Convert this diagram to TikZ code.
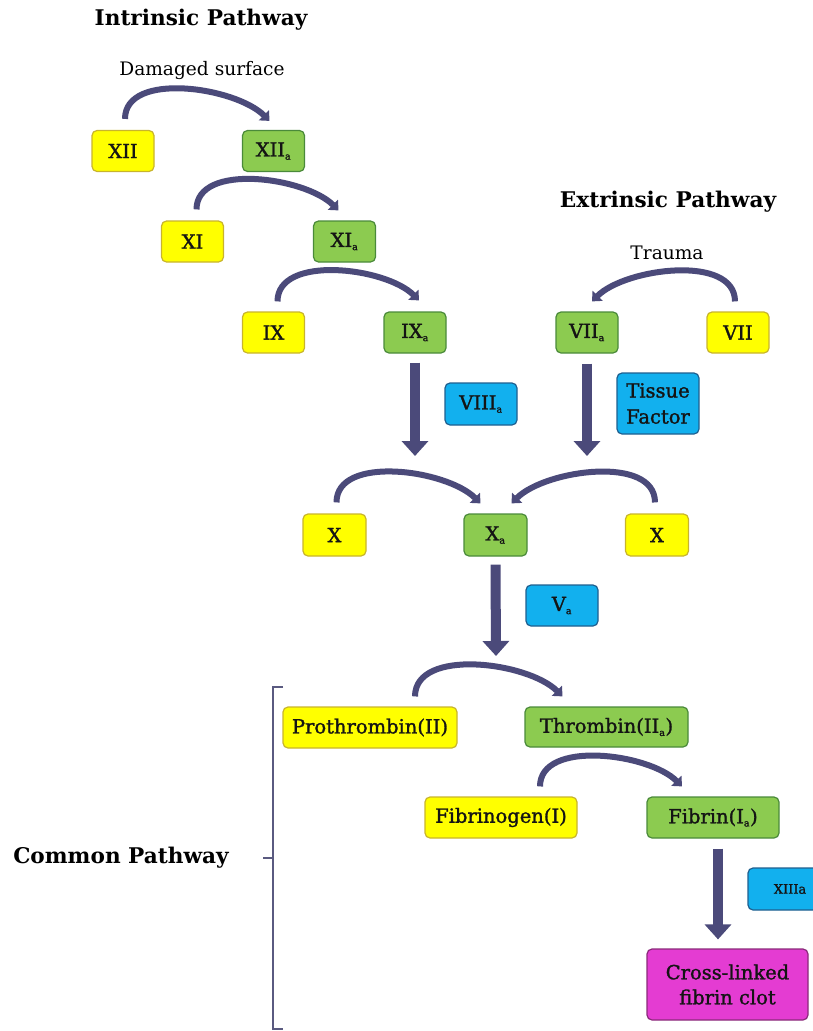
\documentclass[tikz,border=0pt]{standalone}
\usepackage{fontspec}
\setmainfont{DejaVu Serif}
\newfontfamily\semibfont{DejaVu Serif}[FakeBold=1.4]
\usetikzlibrary{arrows.meta}
\definecolor{Yel}{HTML}{FFFF00}
\definecolor{YelB}{HTML}{C8B42C}
\definecolor{Grn}{HTML}{8CCB50}
\definecolor{GrnB}{HTML}{4A8A3A}
\definecolor{Blu}{HTML}{12B0EE}
\definecolor{BluB}{HTML}{1F5F8F}
\definecolor{Mag}{HTML}{E43CD2}
\definecolor{MagB}{HTML}{8A2A7A}
\definecolor{Arr}{HTML}{4B4A7A}
\definecolor{Brk}{HTML}{5A5A80}
\newcommand{\sba}{\textsubscript{\scalebox{0.7}{a}}}
\begin{document}
\begin{tikzpicture}[x=1pt,y=-1pt,
  box/.style={rounded corners=5pt, minimum height=41pt, inner sep=0pt, line width=1.2pt,
    text=black!92, font=\semibfont\fontsize{19.5}{26}\selectfont, align=center},
  yel/.style={box, fill=Yel, draw=YelB},
  grn/.style={box, fill=Grn, draw=GrnB},
  blu/.style={box, fill=Blu, draw=BluB},
  mag/.style={box, fill=Mag, draw=MagB},
  title/.style={font=\bfseries\fontsize{21.6}{26}\selectfont},
  lbl/.style={font=\fontsize{18.6}{22}\selectfont},
  arcarrow/.style={draw=Arr, line width=6pt, -{Triangle[width=14pt,length=8pt]}},
  downarrow/.style={draw=Arr, line width=10pt, -{Triangle[width=26pt,length=15pt]}},
]
\useasboundingbox (0,0) rectangle (813,1031);
% titles
\node[title] (tint) at (201,20) {Intrinsic Pathway};
\node[lbl] (dmg) at (202,70) {Damaged surface};
\node[title] (text) at (668,202) {Extrinsic Pathway};
\node[lbl] (trauma) at (667,253) {Trauma};
\node[title] (tcom) at (121,858) {Common Pathway};
% intrinsic
\node[yel, minimum width=62pt] (xii) at (123,151) {XII};
\node[grn, minimum width=62pt] (xiia) at (273.5,151) {XII\sba};
\node[yel, minimum width=62pt] (xi) at (192.5,241.5) {XI};
\node[grn, minimum width=62pt] (xia) at (344.5,241.5) {XI\sba};
\node[yel, minimum width=62pt] (ix) at (273.5,332.5) {IX};
\node[grn, minimum width=62pt] (ixa) at (415,332.5) {IX\sba};
% extrinsic
\node[grn, minimum width=62pt] (viia) at (587,332.5) {VII\sba};
\node[yel, minimum width=62pt] (vii) at (738,332.5) {VII};
\node[blu, minimum width=72pt, minimum height=42pt] (viiia) at (481,404) {VIII\sba};
\node[blu, minimum width=82pt, minimum height=61pt] (tf) at (658,403.5) {Tissue\\Factor};
% X
\node[yel, minimum width=63pt, minimum height=42pt] (xl) at (334.5,535) {X};
\node[grn, minimum width=63pt, minimum height=42pt] (xa) at (495.5,535) {X\sba};
\node[yel, minimum width=63pt, minimum height=42pt] (xr) at (657,535) {X};
\node[blu, minimum width=72pt] (va) at (562,605.5) {V\sba};
% common
\node[yel, minimum width=174pt] (pro) at (370,727.5) {Prothrombin(II)};
\node[grn, minimum width=163pt, minimum height=40pt] (thr) at (606.5,727) {Thrombin(II\sba)};
\node[yel, minimum width=152pt] (fbg) at (501,817.5) {Fibrinogen(I)};
\node[grn, minimum width=132pt] (fbn) at (713,817.5) {Fibrin(I\sba)};
\node[blu, minimum width=84pt, minimum height=42pt, font=\semibfont\fontsize{13}{15}\selectfont] (xiiia) at (790,889) {XIIIa};
\node[mag, minimum width=161pt, minimum height=71pt, font=\semibfont\fontsize{19.5}{25}\selectfont] (clot) at (727.5,984.5) {Cross-linked\\fibrin clot};
% free ends of straight arrows
\coordinate (ixtip) at (415,456);
\coordinate (viitip) at (587,456);
\coordinate (xatip) at (496,656);
% curved arrows
\draw[arcarrow] ([xshift=2pt,yshift=11pt]xii.north) to[out=90,in=135,looseness=0.85] ([xshift=-4pt,yshift=9pt]xiia.north);
\draw[arcarrow] ([xshift=4pt,yshift=11pt]xi.north) to[out=90,in=135,looseness=0.85] ([xshift=-6pt,yshift=10pt]xia.north);
\draw[arcarrow] ([xshift=4pt,yshift=10pt]ix.north) to[out=90,in=135,looseness=0.85] ([xshift=4pt,yshift=11pt]ixa.north);
\draw[arcarrow] ([xshift=-3pt,yshift=10pt]vii.north) to[out=90,in=45,looseness=0.85] ([xshift=5pt,yshift=10pt]viia.north);
\draw[arcarrow] ([xshift=2pt,yshift=11pt]xl.north) to[out=90,in=135,looseness=0.85] ([xshift=-15pt,yshift=10pt]xa.north);
\draw[arcarrow] ([xshift=-2pt,yshift=11pt]xr.north) to[out=90,in=45,looseness=0.85] ([xshift=16pt,yshift=10pt]xa.north);
\draw[arcarrow] ([xshift=45pt,yshift=10pt]pro.north) to[out=90,in=135,looseness=0.85] ([xshift=-44pt,yshift=10pt]thr.north);
\draw[arcarrow] ([xshift=39pt,yshift=10pt]fbg.north) to[out=90,in=135,looseness=0.85] ([xshift=-31pt,yshift=10pt]fbn.north);
% straight arrows
\draw[downarrow] ([yshift=-9pt]ixa.south) -- (ixtip);
\draw[downarrow] ([yshift=-10pt]viia.south) -- (viitip);
\draw[downarrow] ([yshift=-8pt]xa.south) -- (xatip);
\draw[downarrow] ([xshift=5pt,yshift=-10pt]fbn.south) -- ([xshift=-9.5pt,yshift=9pt]clot.north);
% bracket
\coordinate (bt) at (283,687);
\coordinate (bb) at (283,1029);
\coordinate (bm) at (263,858);
\draw[Brk, line width=1.4pt] (bt) -- (273,687) -- (273,1029) -- (bb);
\draw[Brk, line width=1.4pt] (273,858) -- (bm);
\end{tikzpicture}
\end{document}
